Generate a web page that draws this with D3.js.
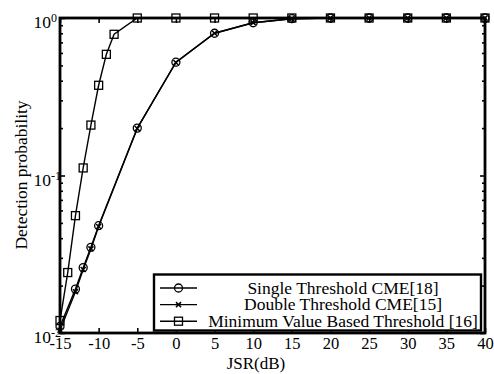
<!DOCTYPE html>
<html>
<head>
<meta charset="utf-8">
<script src="https://cdn.jsdelivr.net/npm/d3@7"></script>
<style>
  body { margin: 0; background: #fff; }
  svg { display: block; font-family: "Liberation Serif", "Times New Roman", serif; }
</style>
</head>
<body>
<div id="diagram"></div>
<script>
!(function () {
  'use strict'
  // - - - - - - - - - -
  // data
  const xTicks = [-15, -10, -5, 0, 5, 10, 15, 20, 25, 30, 35, 40];
  const yTicks = [0.01, 0.1, 1];
  const yTickExp = ['-2', '-1', '0'];

  const singleX = [-15, -13, -12, -11, -10, -5, 0, 5, 10, 15, 20, 25, 30, 35, 40];
  const singleY = [0.011, 0.019, 0.026, 0.035, 0.048, 0.2, 0.524, 0.8, 0.933, 0.99, 1, 1, 1, 1, 1];

  const doubleX = [-15, -13, -12, -11, -10, -5, 0, 5, 10, 15, 20, 25, 30, 35, 40];
  const doubleY = [0.0104, 0.0183, 0.0253, 0.0342, 0.0475, 0.199, 0.522, 0.8, 0.933, 0.99, 1, 1, 1, 1, 1];

  const minX = [-15, -14, -13, -12, -11, -10, -9, -8, -5, 0, 5, 10, 15, 20, 25, 30, 35, 40];
  const minY = [0.012, 0.0242, 0.0556, 0.1117, 0.209, 0.374, 0.588, 0.788, 1, 1, 1, 1, 1, 1, 1, 1, 1, 1];

  const legendLabels = ['Single Threshold CME[18]', 'Double Threshold CME[15]', 'Minimum Value Based Threshold [16]'];

  // canvas
  const canvas = {
    width: 494,
    height: 374,
    padding: { top: 18, right: 9, bottom: 41, left: 60 }
  };

  const svg = d3.select('#diagram')
    .append('svg')
    .attr('width', canvas.width)
    .attr('height', canvas.height);

  const x0 = canvas.padding.left,
    x1 = canvas.width - canvas.padding.right,
    y0 = canvas.height - canvas.padding.bottom,
    y1 = canvas.padding.top;

  const xScale = d3.scaleLinear().domain([-15, 40]).range([x0, x1]);
  const yScale = d3.scaleLog().domain([0.01, 1]).range([y0, y1]);

  // minor ticks for log axis
  const minorY = [];
  [0.01, 0.1].forEach(function (d) {
    for (let k = 2; k <= 9; k++) minorY.push(d * k);
  });

  // axes
  const styleAxis = function (g) {
    g.select('.domain').remove();
    g.selectAll('.tick line').attr('stroke', '#000').attr('stroke-width', 1.6);
  };

  svg.append('g')
    .attr('transform', 'translate(0,' + y0 + ')')
    .call(d3.axisBottom(xScale).tickValues(xTicks).tickSize(-5).tickPadding(4)
      .tickFormat(function (d) { return d; }))
    .call(styleAxis)
    .call(function (g) {
      g.selectAll('.tick text')
        .attr('fill', '#000')
        .style('font-size', '16.5px')
        .style('font-family', '"Liberation Serif", serif');
    });

  svg.append('g')
    .attr('transform', 'translate(0,' + y1 + ')')
    .call(d3.axisTop(xScale).tickValues(xTicks).tickSize(-5).tickFormat(''))
    .call(styleAxis);

  [[d3.axisLeft, x0], [d3.axisRight, x1]].forEach(function (a) {
    svg.append('g')
      .attr('transform', 'translate(' + a[1] + ',0)')
      .call(a[0](yScale).tickValues(yTicks).tickSize(-5).tickFormat(''))
      .call(styleAxis);
    svg.append('g')
      .attr('transform', 'translate(' + a[1] + ',0)')
      .call(a[0](yScale).tickValues(minorY).tickSize(-3).tickFormat(''))
      .call(styleAxis);
  });

  // y tick labels 10^n
  const yLab = svg.append('g')
    .selectAll('text')
    .data(yTicks)
    .enter()
    .append('text')
    .attr('x', 33.5)
    .attr('y', function (d) { return yScale(d) + 10; })
    .style('font-size', '17.5px');
  yLab.append('tspan').text('10');
  yLab.append('tspan')
    .attr('dy', -6)
    .style('font-size', '12px')
    .text(function (d, i) { return yTickExp[i]; });

  // frame
  svg.append('rect')
    .attr('x', x0).attr('y', y1)
    .attr('width', x1 - x0).attr('height', y0 - y1)
    .attr('fill', 'none')
    .attr('stroke', '#000')
    .attr('stroke-width', 2.8);

  // axis titles
  svg.append('text')
    .attr('x', 256)
    .attr('y', 369)
    .attr('text-anchor', 'middle')
    .style('font-size', '17px')
    .text('JSR(dB)');

  svg.append('text')
    .attr('transform', 'translate(27,175) rotate(-90)')
    .attr('text-anchor', 'middle')
    .style('font-size', '17.5px')
    .text('Detection probability');

  // series
  const line = d3.line()
    .x(function (d) { return xScale(d[0]); })
    .y(function (d) { return yScale(d[1]); });

  const series = [
    { xs: singleX, ys: singleY, mark: 'circle' },
    { xs: doubleX, ys: doubleY, mark: 'cross' },
    { xs: minX, ys: minY, mark: 'square' }
  ];

  const drawMark = function (g, mark, cx, cy) {
    if (mark === 'circle') {
      g.append('circle').attr('cx', cx).attr('cy', cy).attr('r', 4)
        .attr('fill', 'none').attr('stroke', '#000').attr('stroke-width', 1.3);
    } else if (mark === 'square') {
      g.append('rect').attr('x', cx - 4).attr('y', cy - 4).attr('width', 8).attr('height', 8)
        .attr('fill', 'none').attr('stroke', '#000').attr('stroke-width', 1.3);
    } else {
      g.append('path')
        .attr('d', 'M' + (cx - 2.5) + ',' + (cy - 2.5) + 'L' + (cx + 2.5) + ',' + (cy + 2.5) +
          'M' + (cx - 2.5) + ',' + (cy + 2.5) + 'L' + (cx + 2.5) + ',' + (cy - 2.5))
        .attr('stroke', '#000').attr('stroke-width', 1.5);
    }
  };

  series.forEach(function (s) {
    const pts = s.xs.map(function (d, i) { return [d, s.ys[i]]; });
    const g = svg.append('g');
    g.append('path')
      .datum(pts)
      .attr('d', line)
      .attr('fill', 'none')
      .attr('stroke', '#000')
      .attr('stroke-width', 1.4);
    pts.forEach(function (p) {
      drawMark(g, s.mark, xScale(p[0]), yScale(p[1]));
    });
  });

  // legend
  const legend = svg.append('g');
  legend.append('rect')
    .attr('x', 154).attr('y', 274.5)
    .attr('width', 327).attr('height', 56)
    .attr('fill', '#fff')
    .attr('stroke', '#000')
    .attr('stroke-width', 2.4);

  ['circle', 'cross', 'square'].forEach(function (m, i) {
    const ly = 288 + i * 16.6;
    legend.append('line')
      .attr('x1', 160).attr('x2', 197)
      .attr('y1', ly).attr('y2', ly)
      .attr('stroke', '#000').attr('stroke-width', 1.4);
    drawMark(legend, m, 178.5, ly);
    legend.append('text')
      .attr('x', 343)
      .attr('y', ly + 5.5)
      .attr('text-anchor', 'middle')
      .style('font-size', '17.5px')
      .text(legendLabels[i]);
  });
  // - - - - - - - - - -
}())
</script>
</body>
</html>
